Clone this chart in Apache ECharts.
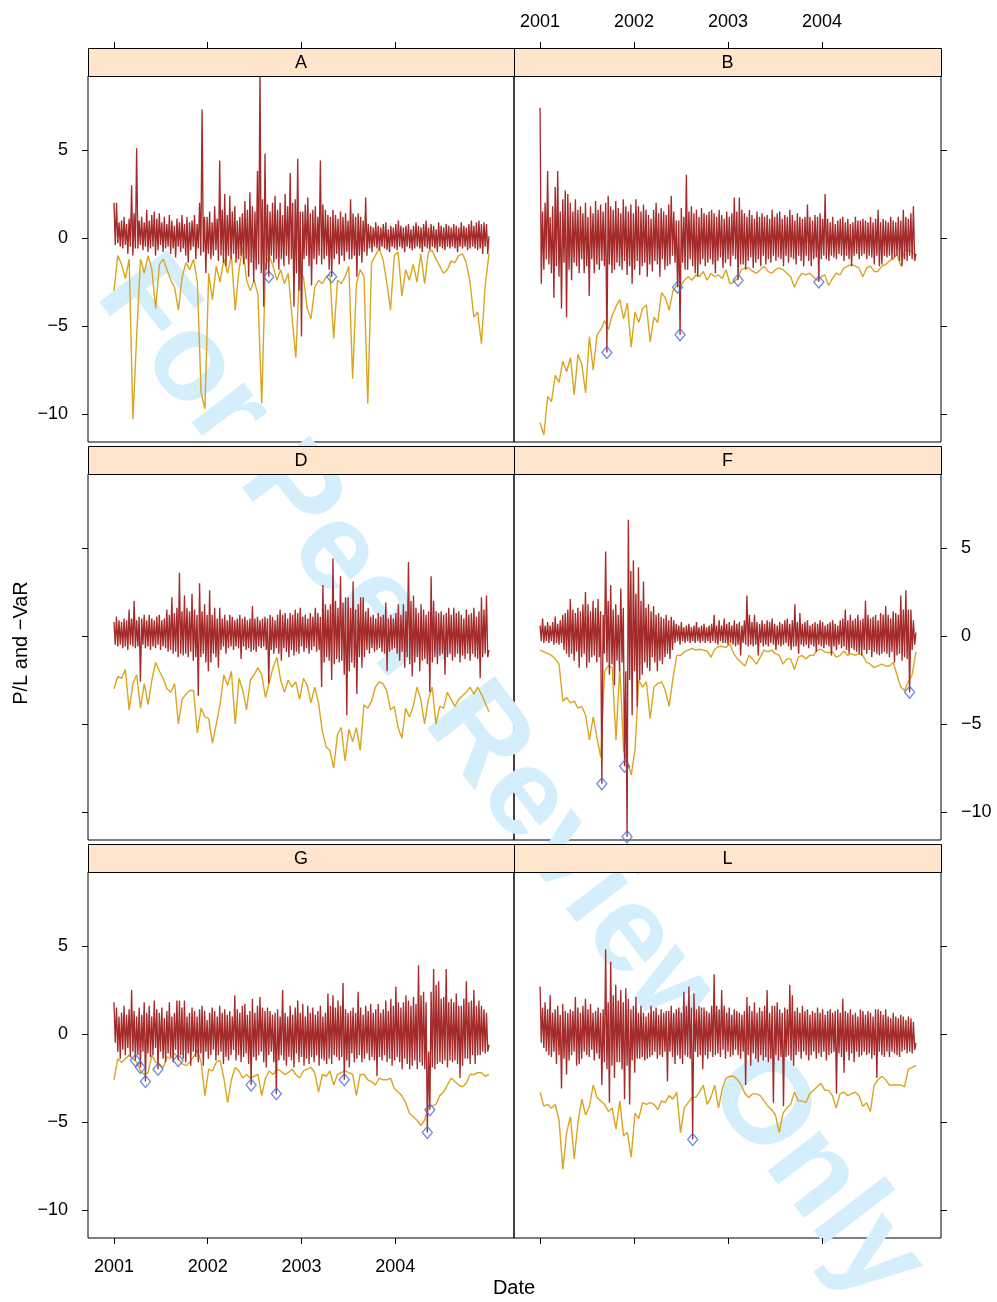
<!DOCTYPE html>
<html>
<head>
<meta charset="utf-8">
<title>P/L and -VaR</title>
<script src="https://cdn.jsdelivr.net/npm/echarts@6/dist/echarts.min.js"></script>
<style>html,body{margin:0;padding:0;background:#fff;}</style>
</head>
<body>
<div id="chart" style="width:997px;height:1302px;"></div>
<script>
// panel names, in lattice order (top-left to bottom-right)
var panelNames = ['A', 'B', 'D', 'F', 'G', 'L'];
var yearTicks = [2001, 2002, 2003, 2004];
var valueTicks = [-10, -5, 0, 5];

// daily P/L, sampled evenly over 2001-2004 (299 values each)
var plA = [2.0,-0.4,2.0,-0.3,0.9,-0.5,1.0,-0.6,1.2,-0.4,
  0.8,-0.9,1.1,-0.5,3.0,-1.0,1.4,-0.6,5.1,-0.6,
  1.0,-0.4,1.2,-0.7,0.9,-0.5,1.6,-0.8,1.0,-0.6,
  1.3,-0.5,1.5,-1.0,1.1,-0.7,1.4,-0.4,0.9,-0.8,
  1.2,-0.6,0.8,-0.5,1.3,-0.9,1.0,-0.6,0.7,-1.1,
  1.1,-0.5,0.9,-0.8,1.3,-0.6,0.8,-1.0,1.2,-1.4,
  0.9,-0.7,1.0,-0.5,1.3,-1.2,0.8,-0.6,2.0,-1.0,
  7.3,-0.8,1.2,-2.0,1.2,-0.9,1.5,-1.2,0.9,-1.0,
  1.8,-0.7,1.1,-1.3,4.4,-1.0,1.6,-1.4,2.5,-1.6,
  1.3,-1.0,2.4,-1.2,1.5,-0.9,1.8,-1.4,1.0,-1.2,
  1.2,-1.0,1.4,-1.5,2.1,-1.2,1.6,-2.2,2.6,-1.4,
  1.8,-2.5,1.5,-1.8,3.8,-1.5,9.5,-2.0,2.2,-3.9,
  4.8,-1.8,1.9,-2.2,1.5,-1.0,2.0,-1.4,2.4,-1.2,
  1.6,-1.8,2.0,-1.2,1.3,-1.6,2.5,-1.0,1.8,-1.5,
  3.7,-1.2,2.0,-3.9,2.2,-2.0,4.5,-3.0,1.5,-5.6,
  1.5,-1.2,1.9,-1.0,2.3,-1.6,1.4,-2.7,1.6,-1.2,
  1.8,-1.5,1.2,-1.0,4.4,-1.5,1.9,-1.2,1.6,-1.0,
  1.3,-1.8,1.2,-2.2,1.6,-1.2,1.3,-0.9,1.1,-1.5,
  1.5,-1.0,1.2,-1.3,1.4,-0.8,1.0,-1.2,2.2,-1.2,
  1.4,-1.0,1.2,-2.2,1.4,-1.0,1.2,-1.4,1.0,-0.8,
  2.3,-1.0,0.8,-0.6,0.7,-0.8,0.6,-0.5,0.9,-0.6,
  0.7,-0.7,0.6,-0.5,0.8,-0.6,0.9,-0.7,0.5,-0.8,
  0.7,-0.5,0.6,-0.6,0.8,-0.7,1.0,-0.5,0.7,-0.6,
  0.6,-0.8,0.7,-0.5,0.8,-0.6,0.5,-0.7,0.7,-0.6,
  0.9,-0.5,0.7,-0.6,0.6,-0.8,0.8,-0.5,1.0,-0.6,
  0.6,-0.7,0.8,-0.5,0.7,-0.6,0.5,-0.8,0.9,-0.5,
  0.7,-0.6,0.6,-0.7,0.8,-0.5,0.7,-0.6,0.6,-0.5,
  0.8,-0.6,0.7,-0.8,0.6,-0.5,0.9,-0.6,0.7,-0.5,
  0.6,-0.7,0.8,-0.6,1.0,-0.5,0.7,-0.6,0.9,-0.7,
  1.0,-0.6,0.8,-0.9,0.9,-0.5,0.8,-0.9,0.1];
var plB = [7.4,-2.6,1.5,-1.8,2.0,-1.2,3.8,-1.5,1.2,-2.0,
  1.8,-3.4,2.9,-1.6,3.8,-2.2,1.5,-4.0,2.2,-1.4,
  2.7,-4.5,2.5,-1.8,2.0,-2.4,1.5,-1.4,2.2,-1.6,
  1.6,-2.0,1.8,-1.2,1.4,-2.0,2.0,-1.6,1.2,-3.3,
  1.8,-1.2,1.4,-2.0,2.1,-1.5,1.6,-1.8,1.9,-1.3,
  1.5,-1.6,2.0,-6.5,2.4,-1.5,1.8,-2.0,1.6,-1.8,
  2.1,-1.4,1.7,-1.6,1.4,-1.8,2.2,-1.3,1.8,-2.1,
  1.5,-1.6,1.9,-2.6,1.4,-1.8,2.2,-1.3,1.8,-2.1,
  1.5,-1.6,1.9,-1.4,1.6,-2.2,1.3,-1.5,1.1,-1.9,
  1.6,-1.3,2.0,-1.5,1.4,-2.2,1.7,-1.2,1.5,-1.8,
  1.3,-1.6,1.9,-1.5,2.4,-1.0,1.5,-1.4,1.0,-2.8,
  1.0,-5.5,1.7,-1.4,1.2,-1.8,3.6,-1.8,1.5,-1.2,
  1.8,-1.6,1.4,-2.0,1.6,-2.2,1.2,-1.5,1.7,-1.2,
  1.4,-1.6,1.3,-1.4,1.5,-1.2,1.6,-1.5,1.4,-2.0,
  1.2,-1.3,1.6,-1.1,1.3,-1.7,1.1,-1.4,1.5,-1.2,
  1.2,-1.6,1.4,-1.0,2.3,-1.2,1.5,-2.4,2.3,-1.5,
  1.6,-1.5,1.4,-1.8,1.2,-1.3,1.6,-1.1,1.3,-1.7,
  1.1,-1.4,1.5,-1.2,1.2,-1.6,1.4,-1.0,1.2,-1.5,
  1.3,-1.2,1.1,-1.4,1.6,-1.0,1.2,-1.3,1.4,-1.1,
  1.5,-1.2,1.1,-1.6,1.3,-1.0,1.2,-1.4,1.6,-1.1,
  1.3,-1.2,1.0,-1.5,1.4,-1.0,1.2,-1.3,1.1,-1.6,
  1.2,-1.0,1.9,-1.3,1.2,-1.6,1.0,-1.2,1.3,-1.1,
  1.2,-2.5,1.4,-1.2,1.1,-1.0,2.5,-1.2,1.1,-1.3,
  0.9,-1.0,1.2,-1.1,0.8,-1.2,1.0,-0.9,1.1,-1.0,
  1.2,-1.3,0.9,-1.0,1.1,-1.2,0.8,-1.6,0.9,-1.0,
  1.2,-0.9,1.0,-1.2,1.0,-1.0,1.1,-0.9,1.0,-1.2,
  0.9,-1.0,1.2,-1.1,0.9,-1.5,1.1,-1.0,1.6,-1.6,
  0.9,-1.5,1.1,-1.0,1.0,-1.1,0.9,-1.0,1.2,-1.2,
  1.0,-1.1,0.9,-1.0,1.2,-1.3,1.0,-1.6,1.6,-1.2,
  1.2,-1.3,1.1,-1.0,1.4,-1.2,1.8,-1.3,-0.9];
var plD = [0.8,-0.5,1.1,-0.6,0.9,-0.5,0.8,-0.7,1.0,-0.6,
  0.9,-0.8,1.5,-0.5,1.0,-0.6,2.0,-0.7,0.9,-0.6,
  1.1,-2.6,1.0,-0.5,1.2,-0.7,0.9,-0.6,1.2,-0.8,
  1.0,-0.6,0.9,-0.7,1.1,-0.5,1.2,-0.8,0.9,-0.6,
  1.0,-0.7,1.5,-0.9,1.2,-0.8,2.2,-1.0,1.3,-0.9,
  1.6,-1.2,3.6,-1.0,1.4,-1.1,2.3,-1.0,1.6,-1.2,
  1.4,-0.9,2.4,-1.4,1.5,-1.2,1.2,-3.4,3.0,-1.2,
  1.4,-1.0,1.8,-1.5,1.2,-2.0,2.6,-1.5,1.2,-1.0,
  1.6,-1.2,1.0,-1.8,1.6,-0.8,1.0,-0.6,1.2,-1.0,
  0.9,-0.7,1.2,-0.6,1.1,-0.8,0.9,-0.6,1.0,-0.7,
  1.2,-1.3,1.0,-0.6,1.1,-0.8,0.9,-0.7,1.0,-0.9,
  1.7,-0.8,1.0,-0.9,1.1,-0.6,0.9,-0.7,1.0,-0.6,
  1.1,-0.8,1.0,-2.7,1.2,-0.8,1.1,-1.0,0.9,-0.7,
  1.2,-1.0,1.5,-1.4,1.2,-0.7,1.3,-0.9,1.0,-1.2,
  1.3,-0.8,1.2,-1.1,1.5,-0.9,1.3,-1.0,1.6,-0.6,
  1.1,-0.9,1.2,-0.7,1.0,-1.0,1.3,-0.8,1.1,-0.6,
  1.6,-0.9,1.3,-0.8,1.1,-2.9,2.9,-1.5,1.8,-1.2,
  1.5,-1.4,1.8,-2.5,4.4,-1.6,2.0,-1.3,1.6,-1.5,
  3.4,-1.4,1.9,-2.2,2.2,-4.5,2.2,-2.0,1.6,-1.5,
  3.1,-1.8,1.5,-3.3,1.8,-1.2,2.2,-1.8,2.2,-1.2,
  1.4,-0.8,1.6,-1.0,1.1,-0.7,1.2,-0.9,1.0,-0.8,
  1.3,-0.7,1.1,-0.9,1.2,-1.0,1.9,-2.0,1.0,-0.9,
  1.2,-0.8,1.0,-0.7,1.3,-1.0,1.8,-1.4,1.2,-0.9,
  1.8,-1.8,1.4,-1.2,4.2,-1.6,2.0,-2.3,2.3,-1.5,
  1.6,-1.2,1.3,-2.0,1.8,-1.4,1.5,-1.3,1.2,-1.6,
  1.4,-3.2,3.4,-1.5,2.0,-1.2,1.4,-1.6,1.3,-1.1,
  1.4,-1.0,1.2,-2.2,1.3,-1.2,1.6,-1.0,1.2,-1.4,
  1.6,-1.2,1.3,-1.0,1.4,-1.5,1.2,-1.1,1.0,-1.3,
  1.5,-1.0,1.2,-1.4,1.3,-1.0,1.6,-1.2,1.1,-1.3,
  1.4,-2.4,2.2,-1.2,1.5,-1.0,2.3,-1.2,-0.8];
var plF = [0.6,-0.3,1.0,-0.4,0.6,-0.3,0.8,-0.4,0.6,-0.3,
  0.8,-0.5,1.1,-0.4,0.7,-0.5,0.9,-0.4,1.2,-0.8,
  1.3,-1.0,1.5,-1.2,2.1,-1.0,1.5,-1.4,1.3,-0.9,
  1.6,-1.8,1.4,-1.2,1.8,-1.0,2.5,-1.8,1.8,-1.5,
  1.4,-1.2,2.0,-1.1,1.6,-1.5,2.1,-1.2,1.4,-8.4,
  1.2,-1.0,4.8,-1.5,2.0,-2.2,2.9,-1.6,1.5,-2.8,
  1.8,-1.4,1.2,-2.0,2.7,-1.5,1.6,-7.4,-2.0,-11.4,
  6.6,-2.5,3.7,-4.5,4.3,-2.0,2.4,-4.0,3.9,-2.5,
  2.0,-2.2,3.1,-1.5,1.6,-1.8,1.8,-2.0,1.4,-1.2,
  1.7,-1.5,1.2,-2.0,1.3,-1.4,1.1,-1.6,1.0,-1.2,
  1.2,-1.0,0.9,-1.3,1.1,-0.8,0.9,-0.4,0.7,-0.3,
  0.6,-0.5,0.8,-0.3,0.5,-0.4,0.6,-0.3,0.7,-0.4,
  0.5,-0.3,0.6,-0.4,0.8,-0.3,0.5,-0.4,0.6,-0.3,
  0.7,-0.4,0.5,-0.3,0.6,-0.4,0.7,-0.3,1.2,-0.4,
  0.6,-0.5,0.9,-0.3,0.6,-0.4,1.0,-0.4,0.7,-0.5,
  0.8,-0.4,0.6,-0.5,0.9,-0.6,0.7,-0.5,0.8,-1.1,
  0.6,-0.4,0.9,-0.5,2.3,-0.6,1.2,-0.5,0.8,-0.6,
  1.2,-0.5,0.8,-1.1,0.7,-0.4,0.9,-0.6,0.7,-0.5,
  0.9,-0.6,0.8,-0.4,1.0,-0.5,0.7,-0.8,0.6,-0.5,
  0.8,-0.6,0.7,-0.5,0.9,-0.4,1.0,-0.6,0.7,-0.8,
  0.9,-0.6,1.8,-0.6,0.8,-1.0,1.3,-0.5,0.7,-0.6,
  0.8,-0.5,0.9,-0.7,0.6,-0.5,0.7,-0.6,0.8,-0.9,
  0.7,-0.5,0.9,-0.6,0.8,-0.7,0.6,-0.5,0.7,-0.6,
  0.8,-1.1,0.9,-0.6,0.7,-0.8,0.6,-0.5,0.9,-0.7,
  1.0,-0.6,1.5,-0.8,0.9,-1.0,1.2,-0.7,0.9,-0.8,
  1.0,-0.9,1.2,-1.0,0.9,-1.1,1.0,-0.8,2.0,-1.0,
  1.2,-0.8,1.0,-1.2,1.1,-0.9,1.2,-1.0,0.9,-1.1,
  1.3,-1.0,1.2,-0.9,1.7,-1.0,1.2,-1.2,1.0,-0.9,
  1.4,-1.5,1.3,-1.1,1.2,-1.0,2.3,-1.4,1.5,-1.2,
  2.6,-1.3,1.5,-3.2,1.5,-0.8,0.9,-0.5,0.2];
var plG = [1.8,-0.5,1.5,-1.0,1.0,-1.4,1.2,-0.9,1.6,-1.2,
  1.1,-0.8,1.4,-1.3,2.5,-1.0,1.3,-1.5,1.0,-1.2,
  1.5,-1.9,1.1,-1.0,1.8,-2.7,1.2,-1.1,1.6,-1.3,
  1.0,-1.2,1.9,-0.8,1.4,-2.0,1.2,-1.0,1.5,-1.4,
  0.9,-1.6,1.3,-1.1,1.8,-1.3,1.0,-1.6,1.2,-0.9,
  1.9,-1.5,1.9,-1.2,1.5,-1.4,1.9,-1.6,1.0,-1.1,
  1.2,-1.8,1.5,-1.0,1.3,-1.3,1.0,-1.6,1.4,-1.1,
  1.6,-1.8,1.3,-1.0,0.8,-1.4,1.2,-1.2,1.5,-0.9,
  1.3,-1.5,1.0,-1.2,1.6,-1.0,1.2,-1.7,1.4,-1.3,
  1.1,-1.5,1.3,-1.2,1.0,-0.9,2.2,-1.5,1.4,-1.2,
  1.2,-1.6,1.6,-1.3,1.7,-1.1,1.1,-1.7,1.3,-2.9,
  2.0,-1.3,1.2,-1.5,1.6,-1.2,2.1,-1.0,1.5,-1.6,
  1.3,-1.9,1.5,-1.2,1.3,-1.0,1.1,-1.6,1.2,-3.4,
  1.4,-1.5,1.0,-1.2,2.5,-1.5,1.2,-1.8,1.0,-1.3,
  1.6,-1.5,1.1,-1.9,1.5,-1.1,1.9,-1.6,1.2,-1.3,
  1.7,-1.8,1.0,-1.4,1.6,-1.7,1.2,-1.3,1.5,-1.6,
  1.1,-1.2,1.3,-1.8,1.6,-1.4,1.0,-1.5,1.2,-1.7,
  2.3,-1.4,1.6,-1.7,2.2,-1.2,1.5,-1.3,1.9,-1.5,
  1.6,-1.3,2.9,-2.6,1.4,-1.5,1.2,-1.9,1.3,-1.1,
  1.5,-1.6,1.2,-1.4,2.4,-1.2,1.5,-1.6,1.1,-1.4,
  1.6,-1.1,1.3,-1.5,1.7,-1.3,1.2,-1.5,1.4,-2.4,
  1.7,-1.3,1.2,-1.5,1.4,-1.2,1.9,-1.6,1.3,-1.4,
  2.0,-1.8,1.6,-1.5,2.7,-1.3,1.8,-1.6,1.5,-2.0,
  1.8,-1.4,2.2,-1.7,1.9,-2.0,1.6,-1.8,2.1,-1.5,
  1.7,-2.0,3.9,-1.6,2.2,-1.8,2.4,-2.0,1.8,-5.6,
  -1.0,-4.3,2.4,-1.9,3.7,-2.0,2.8,-1.7,3.0,-1.6,
  2.0,-1.7,2.1,-1.5,3.7,-1.9,1.8,-1.5,2.0,-1.6,
  1.8,-1.5,2.3,-1.7,1.6,-2.5,1.6,-1.8,2.0,-1.4,
  3.0,-1.4,1.8,-1.7,1.9,-1.2,2.5,-1.7,1.6,-1.2,
  1.9,-1.2,1.6,-1.0,1.4,-1.1,1.2,-1.0,-0.6];
var plL = [2.7,-0.5,1.5,-0.8,1.8,-1.0,1.4,-1.2,2.2,-1.3,
  1.2,-1.0,1.4,-1.7,1.6,-1.2,1.1,-3.1,1.7,-1.4,
  1.3,-2.3,1.2,-1.5,1.4,-1.2,1.3,-1.0,2.1,-1.8,
  1.5,-1.7,1.2,-1.4,1.6,-1.0,2.0,-1.2,1.4,-1.3,
  1.7,-0.9,1.2,-1.5,1.3,-1.1,1.5,-1.4,1.2,-2.9,
  1.4,-1.6,4.8,-2.0,1.8,-3.9,4.1,-1.8,2.2,-2.5,
  2.8,-1.6,1.9,-1.6,2.5,-2.0,1.8,-3.7,2.6,-1.8,
  2.0,-4.0,1.4,-1.5,1.6,-2.2,2.1,-1.4,1.2,-1.4,
  1.6,-1.3,1.2,-1.5,1.0,-1.4,1.2,-1.3,1.6,-1.2,
  1.3,-1.0,1.5,-1.4,1.1,-1.2,1.4,-1.3,1.2,-1.0,
  1.3,-2.7,1.3,-1.0,1.6,-1.3,1.2,-1.7,1.4,-1.2,
  1.5,-1.4,1.2,-1.7,2.4,-1.2,1.6,-1.3,2.7,-1.4,
  1.5,-6.0,2.3,-1.0,1.4,-1.3,1.6,-1.2,1.5,-2.0,
  1.5,-1.2,1.3,-1.4,1.2,-1.0,1.6,-1.3,3.4,-1.2,
  1.6,-1.1,1.4,-1.3,2.5,-0.9,1.6,-1.4,1.2,-1.0,
  1.5,-1.3,1.1,-1.2,1.4,-0.9,1.3,-1.2,1.2,-1.4,
  1.1,-1.0,1.3,-2.9,2.1,-1.2,1.6,-1.8,1.3,-1.1,
  1.8,-1.4,1.2,-1.6,1.5,-1.2,1.3,-1.5,1.6,-1.3,
  2.5,-1.6,1.2,-1.4,1.6,-3.9,1.6,-1.2,1.8,-1.5,
  1.4,-1.3,1.2,-4.1,1.5,-1.3,1.4,-1.2,2.8,-1.5,
  2.2,-1.8,1.3,-1.2,1.5,-1.0,1.2,-1.4,1.6,-1.0,
  1.3,-1.2,1.4,-1.5,1.1,-1.2,1.3,-1.0,1.2,-1.4,
  1.5,-1.1,1.2,-1.3,1.4,-1.0,1.1,-1.5,1.3,-1.2,
  1.4,-1.1,1.2,-1.0,1.3,-3.4,1.4,-1.1,1.2,-1.3,
  2.0,-2.2,1.3,-1.0,1.2,-1.5,1.4,-1.1,1.1,-1.6,
  1.2,-1.0,1.0,-1.3,1.4,-1.2,1.3,-1.0,1.1,-1.2,
  1.3,-1.1,1.2,-1.4,1.0,-1.2,1.4,-2.5,1.4,-1.0,
  1.3,-1.2,1.1,-1.3,1.4,-1.0,1.0,-1.3,0.9,-1.0,
  1.2,-1.1,1.0,-1.2,0.9,-1.3,1.1,-1.0,1.0,-0.9,
  0.8,-1.1,1.0,-1.0,0.9,-1.1,0.7,-0.9,-0.5];

// -VaR, sampled evenly over 2001-2004 (100 values each)
var varA = [-3.0,-1.0,-1.5,-2.3,-1.2,-10.3,-5.5,-1.2,-2.0,-1.0,
  -1.8,-4.0,-1.5,-1.2,-1.8,-2.4,-2.8,-4.1,-2.2,-1.4,
  -1.8,-1.2,-2.5,-8.8,-9.7,-2.0,-3.5,-1.6,-2.5,-1.2,
  -2.0,-1.0,-4.1,-1.8,-0.5,-2.4,-3.0,-2.4,-3.2,-9.4,
  -1.5,-1.0,-1.6,-2.4,-1.8,-2.6,-2.0,-4.5,-6.8,-1.8,
  -2.2,-4.0,-4.6,-2.8,-2.4,-2.6,-2.2,-2.1,-5.7,-2.4,
  -2.6,-2.2,-1.6,-8.0,-2.6,-1.8,-2.2,-9.4,-1.4,-1.0,
  -0.6,-1.2,-2.5,-4.1,-1.0,-0.8,-3.3,-1.8,-2.4,-1.5,
  -2.5,-0.9,-2.6,-0.8,-0.7,-1.2,-1.6,-2.0,-1.8,-1.3,
  -1.4,-1.0,-0.9,-1.4,-2.5,-4.5,-4.2,-6.0,-2.7,-0.9];
var varB = [-10.5,-11.2,-9.0,-9.3,-7.8,-8.2,-7.0,-7.6,-6.8,-8.9,
  -6.6,-7.2,-8.8,-5.6,-7.5,-5.5,-5.2,-4.7,-5.2,-4.4,
  -3.9,-3.5,-4.6,-3.7,-6.2,-4.2,-4.8,-4.0,-3.8,-5.9,
  -4.5,-4.8,-3.1,-3.4,-4.1,-3.0,-2.7,-2.7,-2.4,-2.2,
  -2.4,-2.1,-2.2,-1.9,-2.4,-2.0,-2.2,-2.1,-2.3,-1.8,
  -2.6,-2.5,-2.3,-1.8,-1.7,-1.7,-1.9,-2.0,-1.8,-1.6,
  -1.9,-2.0,-1.8,-1.7,-1.8,-2.0,-2.2,-2.8,-2.3,-2.0,
  -2.1,-2.0,-2.2,-2.4,-2.2,-2.1,-2.7,-2.3,-2.0,-2.1,
  -1.7,-1.6,-1.5,-1.6,-1.7,-2.2,-1.7,-1.6,-1.9,-1.9,
  -1.6,-1.5,-1.3,-1.2,-0.9,-1.6,-0.7,-0.7,-0.8,-1.0];
var varD = [-3.0,-2.3,-2.4,-1.9,-4.2,-2.7,-2.2,-4.1,-2.7,-3.9,
  -2.5,-1.5,-2.0,-2.4,-3.0,-3.2,-2.7,-5.0,-3.6,-3.3,
  -3.1,-3.1,-5.5,-4.1,-4.6,-4.7,-6.1,-5.0,-3.9,-2.2,
  -2.8,-2.0,-5.0,-2.4,-3.1,-4.2,-2.5,-2.2,-1.8,-2.2,
  -3.5,-2.6,-1.8,-1.2,-2.5,-3.2,-2.5,-2.9,-2.6,-3.6,
  -2.4,-2.8,-3.8,-2.9,-3.8,-5.4,-6.3,-6.5,-7.5,-5.6,
  -5.2,-7.1,-5.3,-6.0,-5.2,-6.5,-3.9,-4.1,-3.7,-2.9,
  -2.6,-2.7,-3.1,-4.2,-4.0,-5.2,-5.8,-4.1,-4.6,-4.0,
  -2.9,-3.6,-5.0,-3.6,-2.9,-5.0,-4.0,-4.1,-3.2,-3.6,
  -4.0,-3.6,-3.4,-3.2,-2.9,-3.3,-2.9,-3.3,-3.8,-4.3];
var varF = [-0.8,-0.9,-1.0,-1.1,-1.3,-1.6,-3.7,-3.5,-3.8,-3.7,
  -4.1,-4.0,-4.5,-5.9,-4.6,-5.8,-6.9,-2.0,-1.7,-1.8,
  -5.9,-1.8,-6.5,-7.1,-7.9,-6.5,-2.5,-2.9,-2.6,-4.7,
  -2.9,-2.7,-2.6,-3.1,-4.0,-2.4,-1.1,-1.1,-0.9,-0.8,
  -0.7,-0.8,-0.75,-0.8,-0.85,-1.2,-0.75,-0.6,-0.6,-0.65,
  -0.45,-1.0,-1.3,-1.5,-1.7,-1.1,-1.3,-1.6,-1.2,-0.8,
  -0.9,-0.8,-1.0,-1.1,-1.6,-1.3,-1.3,-1.9,-1.2,-1.1,
  -1.3,-1.1,-1.1,-0.8,-0.75,-0.9,-0.95,-0.9,-1.2,-1.1,
  -0.85,-1.1,-1.0,-1.1,-1.0,-1.1,-1.5,-1.6,-1.8,-1.7,
  -1.6,-1.7,-1.7,-1.5,-2.2,-2.9,-3.1,-2.6,-2.2,-0.9];
var varG = [-2.6,-1.4,-1.6,-1.4,-1.2,-1.4,-1.6,-2.1,-2.3,-2.2,
  -1.2,-1.6,-1.7,-1.9,-1.3,-1.4,-1.1,-1.4,-1.7,-1.8,
  -1.6,-1.3,-0.9,-1.6,-3.5,-2.0,-2.1,-1.6,-1.5,-2.5,
  -3.9,-2.6,-1.9,-2.1,-2.5,-2.3,-2.5,-2.4,-2.3,-3.5,
  -2.5,-2.1,-2.3,-2.0,-2.1,-2.3,-2.2,-2.0,-2.3,-2.5,
  -2.1,-2.0,-1.9,-2.2,-3.3,-2.3,-2.4,-2.1,-2.9,-2.3,
  -2.2,-2.1,-2.2,-2.3,-3.5,-2.3,-2.3,-2.6,-2.7,-2.9,
  -2.5,-2.6,-2.6,-2.5,-3.1,-3.3,-3.5,-3.9,-4.5,-4.7,
  -4.9,-5.2,-4.9,-4.1,-4.1,-4.0,-3.5,-3.3,-2.9,-2.5,
  -2.7,-2.9,-3.0,-2.8,-2.3,-2.3,-2.2,-2.2,-2.4,-2.3];
var varL = [-3.3,-4.1,-4.0,-4.2,-4.0,-4.9,-7.7,-5.6,-4.7,-7.1,
  -5.0,-3.7,-4.6,-4.1,-2.9,-3.6,-3.8,-4.0,-4.4,-4.2,
  -5.4,-3.8,-5.8,-5.6,-7.0,-4.5,-4.8,-3.9,-4.0,-3.9,
  -4.0,-4.3,-3.8,-3.9,-3.5,-3.7,-3.3,-5.6,-4.2,-3.9,
  -3.6,-3.6,-3.3,-2.9,-4.0,-3.6,-2.9,-4.2,-3.1,-2.5,
  -2.4,-2.4,-2.6,-2.9,-3.4,-3.6,-3.4,-3.4,-3.5,-3.8,
  -4.1,-4.3,-4.6,-5.6,-4.5,-4.2,-4.0,-3.3,-3.8,-3.8,
  -3.9,-3.4,-3.2,-3.0,-2.8,-3.2,-3.2,-3.5,-4.2,-3.4,
  -3.3,-3.5,-3.4,-3.3,-3.5,-4.1,-3.9,-4.4,-2.9,-2.6,
  -2.4,-2.6,-2.9,-2.9,-2.9,-2.9,-3.0,-2.0,-1.9,-1.8];

// days where the loss broke through the VaR (index into the P/L arrays)
var excA = [123, 173];
var excB = [53, 109, 111, 157, 221];
var excD = [];
var excF = [49, 67, 69, 293];
var excG = [17, 21, 25, 35, 51, 109, 129, 183, 249, 251];
var excL = [121];

var plList = [plA, plB, plD, plF, plG, plL];
var varList = [varA, varB, varD, varF, varG, varL];
var excList = [excA, excB, excD, excF, excG, excL];

// layout
var colLeft = [88, 514], colWidth = [426, 427];
var rowTop = [76, 474, 872], panelH = 366, stripH = 28;
var xMin = 2000.7227, xMax = 2005.2667;
var yMin = -11.59, yMax = 9.205;
var FONT = '"Liberation Sans", Arial, Helvetica, sans-serif';

function dateOf(n, i) { return 2001 + 4 * i / (n - 1); }
function toPairs(arr) {
  return arr.map(function (v, i) { return [dateOf(arr.length, i), v]; });
}
function fmtNum(v) { return v < 0 ? '\u2212' + (-v) : String(v); }
function fmtYear(v) { return String(Math.round(v)); }

var myChart = echarts.init(document.getElementById('chart'));

var grids = [], xAxes = [], yAxes = [], series = [], graphics = [];

graphics.push({
  type: 'text', z: 0, x: 510, y: 780, rotation: -0.915,
  style: {
    text: 'For Peer Review Only', fill: '#d4effb',
    font: 'bold 124px ' + FONT, align: 'center', verticalAlign: 'middle',
    textAlign: 'center', textVerticalAlign: 'middle'
  }
});

for (var k = 0; k < 6; k++) {
  var r = Math.floor(k / 2), c = k % 2;
  grids.push({
    left: colLeft[c], top: rowTop[r], width: colWidth[c], height: panelH,
    show: true, borderColor: '#000', borderWidth: 1, backgroundColor: 'transparent',
    containLabel: false, outerBoundsMode: 'none'
  });
  xAxes.push({
    type: 'value', gridIndex: k, min: xMin, max: xMax, position: 'bottom',
    axisLine: { show: false, onZero: false }, splitLine: { show: false },
    axisTick: { show: r === 2, customValues: yearTicks, length: 6, lineStyle: { color: '#000' } },
    axisLabel: {
      show: r === 2 && c === 0, customValues: yearTicks, margin: 20,
      color: '#000', fontSize: 18, fontFamily: FONT, formatter: fmtYear
    }
  });
  var showYLabel = (r !== 1 && c === 0) || (r === 1 && c === 1);
  yAxes.push({
    type: 'value', gridIndex: k, min: yMin, max: yMax, position: c === 0 ? 'left' : 'right',
    axisLine: { show: false, onZero: false }, splitLine: { show: false },
    axisTick: { show: true, customValues: valueTicks, length: 6, lineStyle: { color: '#000' } },
    axisLabel: {
      show: showYLabel, customValues: valueTicks, margin: 20,
      color: '#000', fontSize: 18, fontFamily: FONT, formatter: fmtNum
    }
  });

  var pl = plList[k];
  series.push({
    type: 'line', xAxisIndex: k, yAxisIndex: k, data: toPairs(varList[k]),
    showSymbol: false, silent: true, animation: false, z: 2,
    lineStyle: { color: '#DAA520', width: 1.4 }
  });
  series.push({
    type: 'line', xAxisIndex: k, yAxisIndex: k, data: toPairs(pl),
    showSymbol: false, silent: true, animation: false, z: 3,
    lineStyle: { color: '#A52A2A', width: 1.35 }
  });
  series.push({
    type: 'scatter', xAxisIndex: k, yAxisIndex: k, z: 4, silent: true,
    data: excList[k].map(function (i) { return [dateOf(pl.length, i), pl[i]]; }),
    symbol: 'diamond', symbolSize: [10, 12],
    itemStyle: { color: 'rgba(0,0,0,0)', borderColor: '#4169E1', borderWidth: 1.3 }
  });

  // strip with the panel name
  var sy = rowTop[r] - stripH;
  graphics.push({
    type: 'rect', z: 10,
    shape: { x: colLeft[c] + 0.5, y: sy + 0.5, width: colWidth[c], height: stripH },
    style: { fill: '#FFE5CC', stroke: '#000', lineWidth: 1 }
  });
  graphics.push({
    type: 'text', z: 11, x: colLeft[c] + colWidth[c] / 2, y: sy + stripH / 2 + 1,
    style: {
      text: panelNames[k], fill: '#000', font: '18px ' + FONT,
      align: 'center', verticalAlign: 'middle', textAlign: 'center', textVerticalAlign: 'middle'
    }
  });
}

// ticks above the strips of the top row
for (var t = 0; t < 2; t++) {
  xAxes.push({
    type: 'value', gridIndex: t, min: xMin, max: xMax, position: 'top', offset: stripH,
    axisLine: { show: false, onZero: false }, splitLine: { show: false },
    axisTick: { show: true, customValues: yearTicks, length: 6, lineStyle: { color: '#000' } },
    axisLabel: {
      show: t === 1, customValues: yearTicks, margin: 17,
      color: '#000', fontSize: 18, fontFamily: FONT, formatter: fmtYear
    }
  });
}

graphics.push({
  type: 'text', z: 11, x: 514, y: 1288,
  style: { text: 'Date', fill: '#000', font: '20px ' + FONT,
    align: 'center', verticalAlign: 'middle', textAlign: 'center', textVerticalAlign: 'middle' }
});
graphics.push({
  type: 'text', z: 11, x: 21, y: 643, rotation: Math.PI / 2,
  style: { text: 'P/L and \u2212VaR', fill: '#000', font: '20px ' + FONT,
    align: 'center', verticalAlign: 'middle', textAlign: 'center', textVerticalAlign: 'middle' }
});

var option = {
  animation: false,
  backgroundColor: '#fff',
  grid: grids,
  xAxis: xAxes,
  yAxis: yAxes,
  series: series,
  graphic: { elements: graphics }
};
myChart.setOption(option);
</script>
</body>
</html>
